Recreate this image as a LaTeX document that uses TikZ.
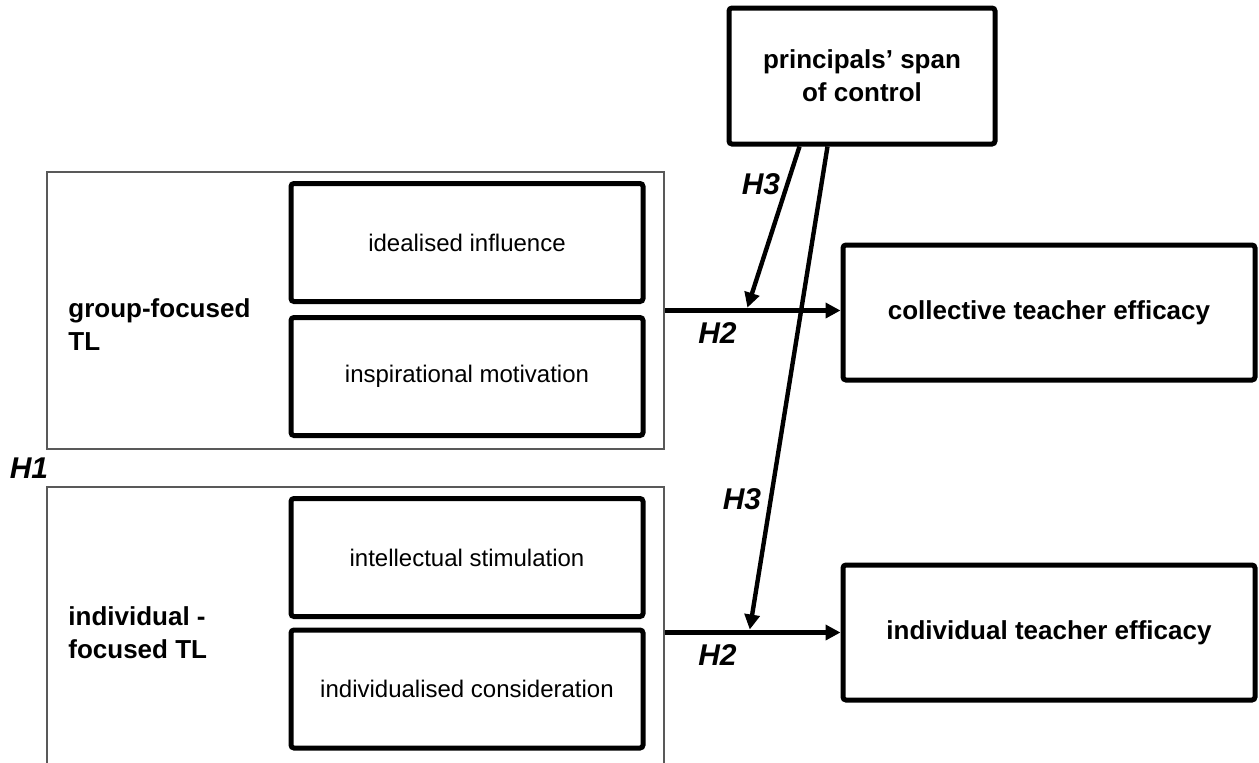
\documentclass[tikz,border=0pt]{standalone}
\usepackage{fontspec}
\setmainfont{Liberation Sans}
\usetikzlibrary{arrows.meta,calc}

\begin{document}
\begin{tikzpicture}[x=0.5pt, y=-0.5pt,
  box/.style = {draw, line width=2.5pt, rounded corners=1.5pt,
    align=center, font=\bfseries\fontsize{13}{16.5}\selectfont},
  dimbox/.style = {box, font=\fontsize{12}{14}\selectfont,
    minimum width=176pt, minimum height=59pt},
  outcome/.style = {box, minimum width=206pt, minimum height=67.5pt},
  outer/.style = {draw=black!65, line width=1.1pt, minimum width=308.5pt},
  tllabel/.style = {anchor=west, align=left, inner sep=0pt,
    font=\bfseries\fontsize{13}{16.5}\selectfont},
  hyp/.style = {inner sep=0pt, font=\bfseries\itshape\fontsize{15}{18}\selectfont},
  arr/.style = {line width=2.2pt, -{Triangle[length=7.5pt,width=7.5pt]}}]
  \useasboundingbox (0,0) rectangle (1259,762);
  \clip (0,0) rectangle (1259,762);

  % moderator
  \node[box, minimum width=133pt, minimum height=68pt] (span) at (862,76)
    {principals’ span\\of control};

  % leadership blocks
  \node[outer, minimum height=138.5pt] (grp) at (355.5,310.5) {};
  \node[outer, minimum height=156.5pt] (ind) at (355.5,643.5) {};
  \node[tllabel] (grplbl) at (68,325) {group-focused\\TL};
  \node[tllabel] (indlbl) at (68,632.5) {individual -\\focused TL};

  \node[dimbox] (idinf) at (467,242.5) {idealised influence};
  \node[dimbox] (insmot) at (467,376.5) {inspirational motivation};
  \node[dimbox] (intstim) at (467,557.5) {intellectual stimulation};
  \node[dimbox] (indcons) at (467,689) {individualised consideration};

  % outcomes
  \node[outcome] (cte) at (1049,312.5) {collective teacher efficacy};
  \node[outcome] (ite) at (1049,632.5) {individual teacher efficacy};

  % paths
  \draw[arr] (grp.east) -- coordinate[pos=0.464] (m1) (grp.east -| cte.west);
  \draw[arr] (ind.east |- ite.west) -- coordinate[pos=0.48] (m2) (ite.west);
  \draw[arr, shorten >=1.5pt] ($(span.south west)+(73,0)$) -- (m1);
  \draw[arr, shorten >=1.5pt] ($(span.south west)+(101,0)$) -- (m2);

  % hypotheses
  \node[hyp] (h1) at (29,467.7) {H1};
  \node[hyp] (h2a) at (717.5,332.7) {H2};
  \node[hyp] (h2b) at (717.5,654.7) {H2};
  \node[hyp] (h3a) at (761,183.7) {H3};
  \node[hyp] (h3b) at (742,498.7) {H3};
\end{tikzpicture}
\end{document}
